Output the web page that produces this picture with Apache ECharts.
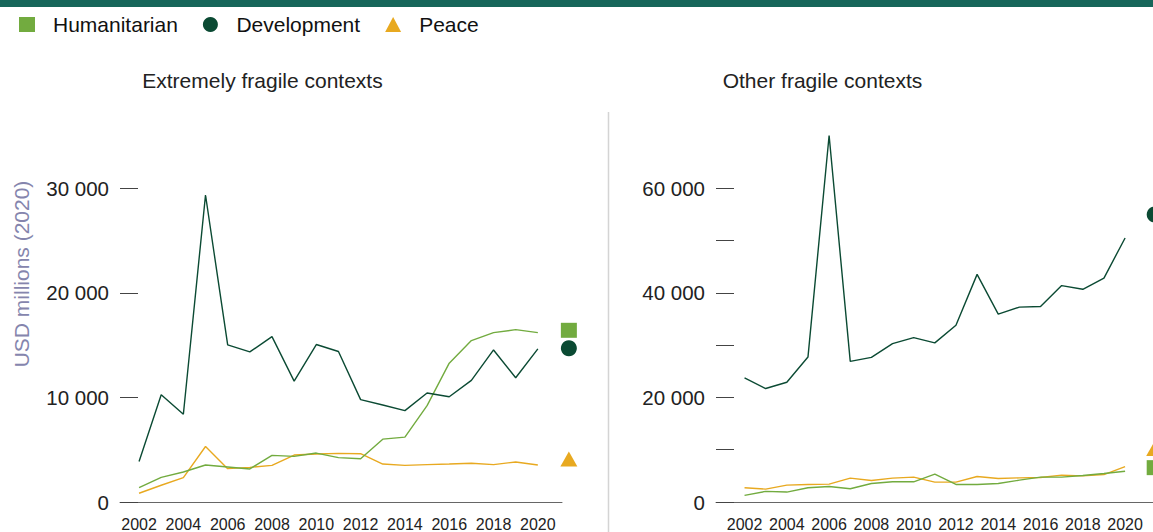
<!DOCTYPE html>
<html>
<head>
<meta charset="utf-8">
<script src="https://cdn.jsdelivr.net/npm/echarts@6/dist/echarts.min.js"></script>
<style>
html,body{margin:0;padding:0;background:#fff;}
#chart{width:1153px;height:532px;}
</style>
</head>
<body>
<div id="chart"></div>
<script>
const years = [2002,2003,2004,2005,2006,2007,2008,2009,2010,2011,2012,2013,2014,2015,2016,2017,2018,2019,2020];
const yearLabels = [2002,2004,2006,2008,2010,2012,2014,2016,2018,2020];
const seriesNames = ['Humanitarian','Development','Peace'];
const panelTitles = ['Extremely fragile contexts','Other fragile contexts'];
const yAxisName = 'USD millions (2020)';

// Extremely fragile contexts
const efHum   = [1380,2360,2870,3540,3350,3160,4460,4360,4680,4240,4140,6010,6200,9210,13280,15440,16200,16480,16200];
const efDev   = [3880,10260,8390,29360,15020,14350,15820,11560,15060,14390,9790,9280,8740,10420,10070,11630,14540,11880,14640];
const efPeace = [840,1600,2330,5310,3190,3310,3500,4490,4590,4650,4620,3630,3500,3570,3630,3700,3570,3830,3540];
const efEnd   = [16420,14700,4120]; // Humanitarian, Development, Peace

// Other fragile contexts
const ofHum   = [1270,2030,1900,2720,2970,2530,3540,3860,3860,5320,3350,3350,3540,4180,4750,4750,5060,5440,5890];
const ofDev   = [23730,21700,22900,27720,70110,26890,27650,30300,31440,30430,33800,43540,35940,37270,37400,41390,40690,42830,50500];
const ofPeace = [2720,2470,3230,3350,3420,4560,4110,4560,4750,3800,3800,4870,4490,4620,4680,5130,5000,5250,6770];
const ofEnd   = [6570,54990,10250];

const efTicks = [0,10000,20000,30000];
const ofTickLabels = [0,20000,40000,60000];
const endYear = 2021.4;

const colors = {Humanitarian:'#72ab3f', Development:'#0b4a33', Peace:'#e8a920'};
const symbols = {Humanitarian:'rect', Development:'circle', Peace:'triangle'};
const FONT = 'Liberation Sans, Arial, Helvetica, sans-serif';

function fmt(v){ return String(v).replace(/\B(?=(\d{3})+(?!\d))/g, ' '); }
function pairs(arr){ return arr.map((v,i)=>[years[i], v]); }

const chart = echarts.init(document.getElementById('chart'), null, {renderer:'svg'});

function xAxisCfg(gi, min, max){
  return {
    type:'value', gridIndex:gi, min:min, max:max,
    axisLine:{show:true, lineStyle:{color:'#666', width:1}},
    axisTick:{show:false},
    splitLine:{show:false},
    axisLabel:{customValues:yearLabels, fontSize:16, color:'#222', fontFamily:FONT, margin:14,
      formatter:(v)=>String(v)}
  };
}
function yAxisCfg(gi, max, labelVals){
  return {
    type:'value', gridIndex:gi, min:0, max:max, interval:10000,
    axisLine:{show:false},
    axisTick:{show:true, inside:true, length:18, lineStyle:{color:'#444', width:1}},
    splitLine:{show:false},
    axisLabel:{fontSize:20.5, color:'#222', fontFamily:FONT, margin:11,
      formatter:(v)=> labelVals.indexOf(v) >= 0 ? fmt(v) : ''}
  };
}

const panels = [
  {hum:efHum, dev:efDev, peace:efPeace, end:efEnd},
  {hum:ofHum, dev:ofDev, peace:ofPeace, end:ofEnd}
];

const series = [];
panels.forEach((p, gi)=>{
  const vals = {Humanitarian:p.hum, Development:p.dev, Peace:p.peace};
  ['Peace','Humanitarian','Development'].forEach(name=>{
    series.push({
      name:name, type:'line', xAxisIndex:gi, yAxisIndex:gi,
      data:pairs(vals[name]), showSymbol:false, symbol:'none', clip:false,
      lineStyle:{color:colors[name], width:1.4}, itemStyle:{color:colors[name]},
      silent:true, animation:false
    });
  });
  seriesNames.forEach((name, k)=>{
    series.push({
      name:name, type:'scatter', xAxisIndex:gi, yAxisIndex:gi,
      data:[[endYear, p.end[k]]], symbol:symbols[name],
      symbolSize: name==='Peace' ? [17,15] : (name==='Humanitarian' ? [16,15] : 16),
      itemStyle:{color:colors[name], opacity:1}, clip:false, silent:true, animation:false
    });
  });
});

const option = {
  backgroundColor:'#fff',
  animation:false,
  textStyle:{fontFamily:FONT},
  legend:{
    left:14, top:9, itemWidth:16, itemHeight:15, itemGap:25,
    textStyle:{fontSize:21, color:'#111', fontFamily:FONT, padding:[0,0,0,13]},
    data:seriesNames.map(n=>({name:n, icon:symbols[n], itemStyle:{color:colors[n], opacity:1}})),
    selectedMode:false
  },
  grid:[
    {left:120, top:188.3, width:442, height:315.2},
    {left:716, top:188.3, width:437, height:316}
  ],
  xAxis:[ xAxisCfg(0, 2001.14, 2021.09), xAxisCfg(1, 2000.65, 2021.32) ],
  yAxis:[ yAxisCfg(0, 30000, efTicks), yAxisCfg(1, 60000, ofTickLabels) ],
  graphic:[
    {type:'rect', shape:{x:0, y:0, width:1153, height:7}, style:{fill:'#17665a'}, silent:true},
    {type:'line', shape:{x1:608.5, y1:112, x2:608.5, y2:532}, style:{stroke:'#d4d4d4', lineWidth:1.5}, silent:true},
    {type:'text', x:262.5, y:80, style:{text:panelTitles[0], font:'21px '+FONT, fill:'#222', textAlign:'center', textVerticalAlign:'middle'}},
    {type:'text', x:822.5, y:80, style:{text:panelTitles[1], font:'21px '+FONT, fill:'#222', textAlign:'center', textVerticalAlign:'middle'}},
    {type:'text', x:21.5, y:274, rotation:Math.PI/2, style:{text:yAxisName, font:'21px '+FONT, fill:'#8585ad', textAlign:'center', textVerticalAlign:'middle'}}
  ],
  series:series
};
chart.setOption(option);
</script>
</body>
</html>
